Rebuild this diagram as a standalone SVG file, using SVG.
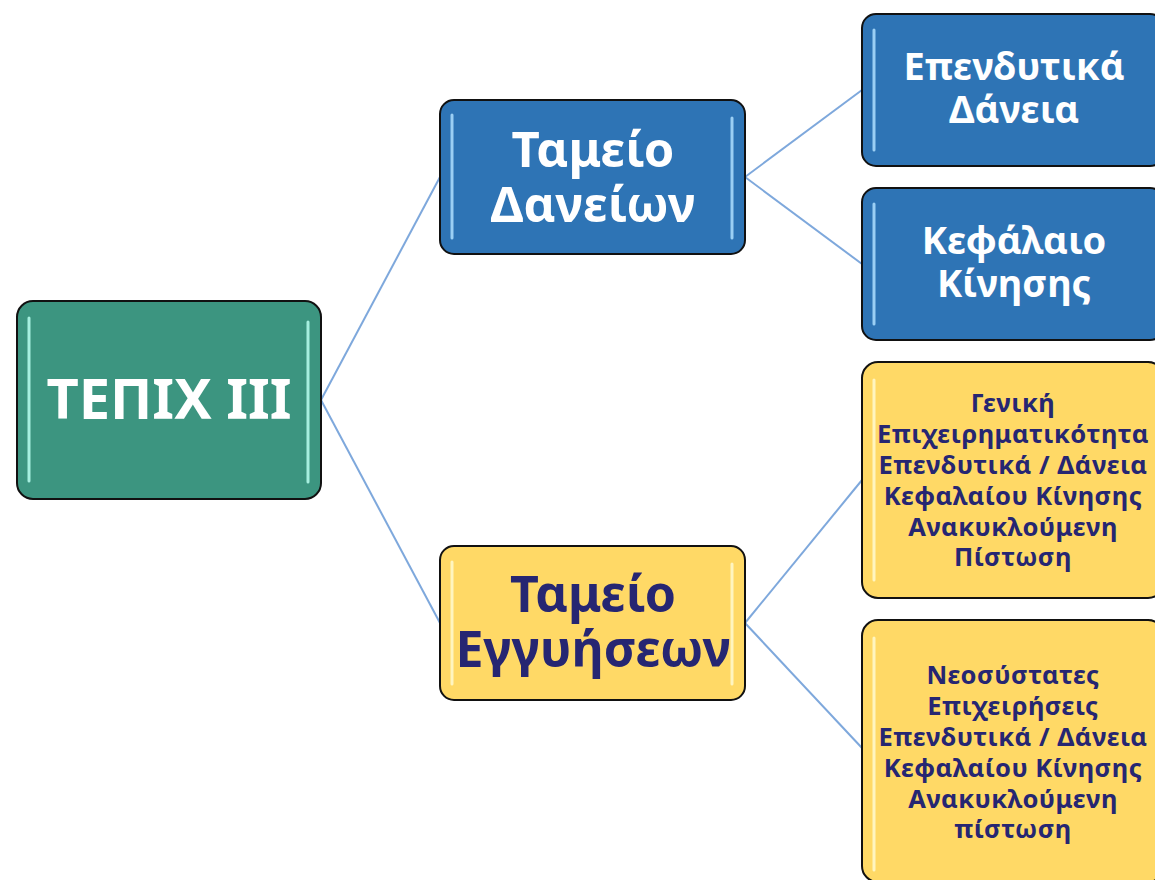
<svg xmlns="http://www.w3.org/2000/svg" width="1155" height="880" viewBox="0 0 1155 880">
<style>
.box{stroke:#111;stroke-width:2}
.green{fill:#3c9580}
.blue{fill:#2e74b5}
.yellow{fill:#ffd966}
.hl{stroke-width:3;stroke-linecap:round;opacity:0.85}
.hlg{stroke:#b9fff0}
.hlb{stroke:#aee0ff}
.hly{stroke:#fffbd0}
.conn{stroke:#7ea8dc;stroke-width:2;fill:none}
text{font-family:"Noto Sans","DejaVu Sans",sans-serif;font-weight:bold;text-anchor:middle}
.w{fill:#ffffff}
.n{fill:#262672}
.small{font-size:25.5px;letter-spacing:0.5px}
</style>
<rect width="1155" height="880" fill="#ffffff"/>
<g id="connectors">
<line class="conn" x1="321" y1="400" x2="440" y2="177"/>
<line class="conn" x1="321" y1="400" x2="440" y2="623"/>
<line class="conn" x1="745" y1="177" x2="862" y2="90"/>
<line class="conn" x1="745" y1="177" x2="862" y2="264"/>
<line class="conn" x1="745" y1="623" x2="862" y2="480"/>
<line class="conn" x1="745" y1="623" x2="862" y2="748"/>
</g>
<g id="root">
<rect class="box green" x="17" y="301" width="304" height="198" rx="16"/>
<line class="hl hlg" x1="29" y1="318" x2="29" y2="481"/>
<line class="hl hlg" x1="308" y1="322" x2="308" y2="482"/>
<text class="w" x="169" y="419" font-size="56">ΤΕΠΙΧ ΙΙΙ</text>
</g>
<g id="tameio-daneion">
<rect class="box blue" x="440" y="100" width="305" height="154" rx="14"/>
<line class="hl hlb" x1="452" y1="115" x2="452" y2="238"/>
<line class="hl hlb" x1="732" y1="118" x2="732" y2="238"/>
<text class="w" font-size="49"><tspan x="593" y="167">Ταμείο</tspan><tspan x="593" y="222">Δανείων</tspan></text>
</g>
<g id="tameio-eggyiseon">
<rect class="box yellow" x="440" y="546" width="305" height="154" rx="14"/>
<line class="hl hly" x1="452" y1="562" x2="452" y2="684"/>
<line class="hl hly" x1="732" y1="564" x2="732" y2="684"/>
<text class="n" font-size="50"><tspan x="593" y="612">Ταμείο</tspan><tspan x="593" y="667">Εγγυήσεων</tspan></text>
</g>
<g id="ependytika-daneia">
<rect class="box blue" x="862" y="14" width="302" height="152" rx="14"/>
<line class="hl hlb" x1="874" y1="30" x2="874" y2="150"/>
<text class="w" font-size="38"><tspan x="1014" y="80">Επενδυτικά</tspan><tspan x="1014" y="123">Δάνεια</tspan></text>
</g>
<g id="kefalaio-kinisis">
<rect class="box blue" x="862" y="188" width="302" height="152" rx="14"/>
<line class="hl hlb" x1="874" y1="204" x2="874" y2="324"/>
<text class="w" font-size="38"><tspan x="1014" y="254">Κεφάλαιο</tspan><tspan x="1014" y="297">Κίνησης</tspan></text>
</g>
<g id="geniki">
<rect class="box yellow" x="862" y="362" width="302" height="236" rx="16"/>
<line class="hl hly" x1="874" y1="380" x2="874" y2="580"/>
<text class="n small"><tspan x="1013" y="412">Γενική</tspan><tspan x="1013" y="443">Επιχειρηματικότητα</tspan><tspan x="1013" y="474">Επενδυτικά / Δάνεια</tspan><tspan x="1013" y="505">Κεφαλαίου Κίνησης</tspan><tspan x="1013" y="536">Ανακυκλούμενη</tspan><tspan x="1013" y="566">Πίστωση</tspan></text>
</g>
<g id="neosystates">
<rect class="box yellow" x="862" y="620" width="302" height="262" rx="16"/>
<line class="hl hly" x1="874" y1="638" x2="874" y2="870"/>
<text class="n small"><tspan x="1013" y="684">Νεοσύστατες</tspan><tspan x="1013" y="715">Επιχειρήσεις</tspan><tspan x="1013" y="746">Επενδυτικά / Δάνεια</tspan><tspan x="1013" y="777">Κεφαλαίου Κίνησης</tspan><tspan x="1013" y="808">Ανακυκλούμενη</tspan><tspan x="1013" y="838">πίστωση</tspan></text>
</g>
</svg>
